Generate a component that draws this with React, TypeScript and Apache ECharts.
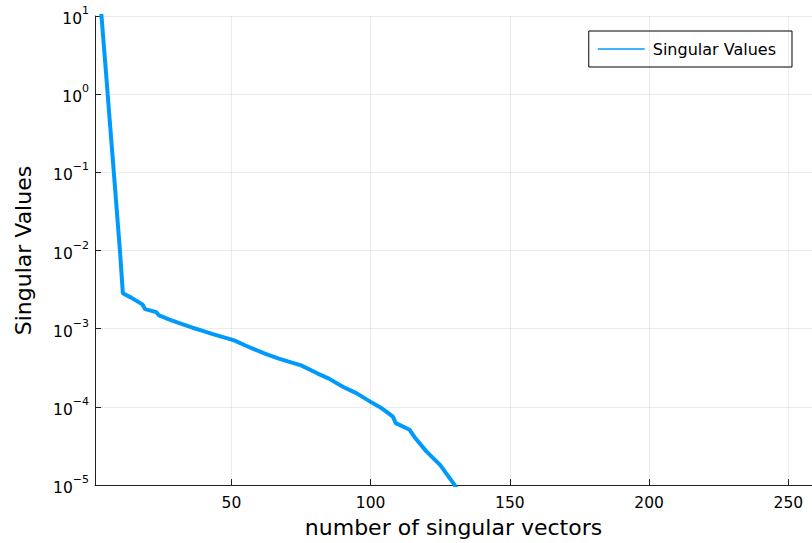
import React, { useEffect, useRef } from "react";
import * as echarts from "echarts";

const indices = [1, 2, 3, 4, 5, 6, 7, 8, 9, 10, 11, 14, 18, 19, 23, 24, 28, 31, 36, 40, 43, 51, 55, 62, 67, 75, 81, 85, 90, 95, 100, 104, 108, 109, 114, 116, 120, 125, 130, 133];
const singularValues = [112, 40, 14, 5.0, 1.8, 0.62, 0.22, 0.078, 0.027, 0.0095, 0.00285, 0.0025, 0.00205, 0.00178, 0.00163, 0.00148, 0.0013, 0.00119, 0.00103, 0.00093, 0.00086, 0.00071, 0.00061, 0.00048, 0.000415, 0.00034, 0.000267, 0.00023, 0.000181, 0.000149, 0.000116, 0.000096, 0.000075, 0.000062, 0.000051, 0.00004, 0.000027, 0.000018, 0.0000102, 0.000007];
const xTicks = [50, 100, 150, 200, 250];
const seriesName = "Singular Values";
const xTitle = "number of singular vectors";
const yTitle = "Singular Values";

const FONT = "DejaVu Sans";

export default function App() {
  const ref = useRef<HTMLDivElement>(null);
  useEffect(() => {
    if (!ref.current) return;
    const chart = echarts.init(ref.current, null, { renderer: "svg" });
    const data = indices.map((x, i) => [x, singularValues[i]]);
    const supMap = (e: number) => (e < 0 ? "\u2212" + (-e) : String(e));
    chart.setOption({
      animation: false,
      backgroundColor: "#fff",
      textStyle: { fontFamily: FONT },
      grid: { left: 95, top: 16, right: 0, bottom: 56, containLabel: false },
      legend: {
        right: 20,
        top: 31,
        orient: "vertical",
        data: [{ name: seriesName, icon: "rect" }],
        itemWidth: 47,
        itemHeight: 1.5,
        itemGap: 0,
        padding: [10, 16, 10, 9],
        borderColor: "#000",
        borderWidth: 1,
        borderRadius: 0,
        backgroundColor: "#fff",
        textStyle: { fontFamily: FONT, fontSize: 16, color: "#000", padding: [0, 0, 0, 3] },
      },
      xAxis: {
        type: "value",
        min: 1,
        max: 258.5,
        name: xTitle,
        nameLocation: "middle",
        nameGap: 29,
        nameTextStyle: { fontFamily: FONT, fontSize: 22, color: "#000" },
        axisLine: { show: true, onZero: false, lineStyle: { color: "#222", width: 1 } },
        axisTick: { show: true, inside: true, length: 6, customValues: xTicks, lineStyle: { color: "#222" } },
        axisLabel: { customValues: xTicks, fontFamily: FONT, fontSize: 15.5, color: "#000", margin: 10 },
        splitLine: { show: false },
      },
      yAxis: {
        type: "log",
        logBase: 10,
        min: 1e-5,
        max: 10,
        interval: 1,
        name: yTitle,
        nameLocation: "middle",
        nameGap: 61,
        nameTextStyle: { fontFamily: FONT, fontSize: 22, color: "#000" },
        axisLine: { show: true, lineStyle: { color: "#222", width: 1 } },
        axisTick: { show: true, inside: true, length: 6, lineStyle: { color: "#222" } },
        splitLine: { show: true, lineStyle: { color: "rgba(0,0,0,0.08)", width: 1 } },
        axisLabel: {
          margin: 6,
          formatter: (v: number) => {
            const e = Math.round(Math.log10(v));
            return "{b|10}{s|" + supMap(e) + "}";
          },
          rich: {
            b: { fontFamily: FONT, fontSize: 15.5, color: "#000", padding: [6, 0, 0, 0] },
            s: { fontFamily: FONT, fontSize: 11, color: "#000", verticalAlign: "top" },
          },
        },
      },
      series: [
        {
          name: "grid",
          type: "line",
          data: [],
          z: 1,
          silent: true,
          markLine: {
            silent: true,
            symbol: "none",
            label: { show: false },
            lineStyle: { color: "rgba(0,0,0,0.08)", width: 1, type: "solid" },
            data: xTicks.map((t) => ({ xAxis: t })),
          },
        },
        {
          name: seriesName,
          type: "line",
          data,
          z: 3,
          symbol: "none",
          showSymbol: false,
          clip: true,
          lineStyle: { color: "#009AFA", width: 4 },
          itemStyle: { color: "#009AFA" },
        },
      ],
    });
    return () => chart.dispose();
  }, []);
  return (
    <div
      ref={ref}
      style={{ position: "fixed", left: 0, top: 0, width: 812, height: 543 }}
    />
  );
}
